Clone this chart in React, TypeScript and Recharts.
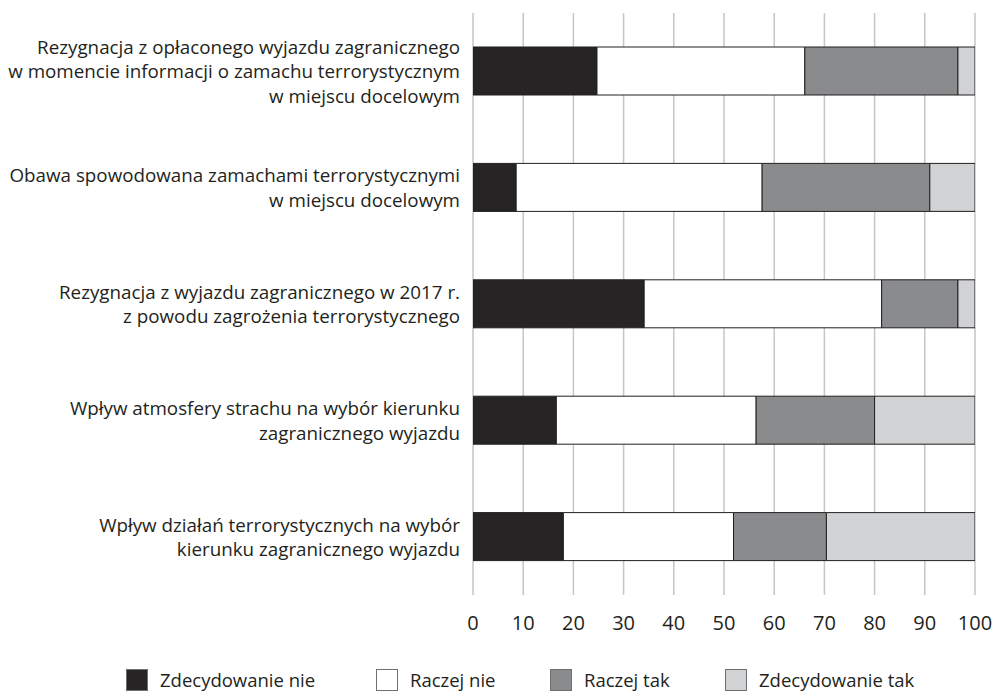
import { Bar, BarChart, CartesianGrid, XAxis, YAxis } from 'recharts'

document.body.style.margin = '0'

const categories = [
  ['Rezygnacja z opłaconego wyjazdu zagranicznego', 'w momencie informacji o zamachu terrorystycznym', 'w miejscu docelowym'],
  ['Obawa spowodowana zamachami terrorystycznymi', 'w miejscu docelowym'],
  ['Rezygnacja z wyjazdu zagranicznego w 2017 r.', 'z powodu zagrożenia terrorystycznego'],
  ['Wpływ atmosfery strachu na wybór kierunku', 'zagranicznego wyjazdu'],
  ['Wpływ działań terrorystycznych na wybór', 'kierunku zagranicznego wyjazdu'],
]
const zdecydowanieNie = [24.7, 8.6, 34.1, 16.6, 18.0]
const raczejNie = [41.4, 49.0, 47.3, 39.8, 33.9]
const raczejTak = [30.5, 33.4, 15.2, 23.6, 18.5]
const zdecydowanieTak = [3.4, 9.3, 3.4, 20.0, 29.6]
const xTicks = [0, 10, 20, 30, 40, 50, 60, 70, 80, 90, 100]

const series = [
  { key: 'zn', name: 'Zdecydowanie nie', fill: '#262425' },
  { key: 'rn', name: 'Raczej nie', fill: '#ffffff' },
  { key: 'rt', name: 'Raczej tak', fill: '#8a8b8c' },
  { key: 'zt', name: 'Zdecydowanie tak', fill: '#d1d2d4' },
]

const data = categories.map((lines, i) => ({
  id: String(i),
  lines,
  zn: zdecydowanieNie[i],
  rn: raczejNie[i],
  rt: raczejTak[i],
  zt: zdecydowanieTak[i],
}))

const FONT = '"Open Sans", sans-serif'
const TEXT = '#231f20'

// multi-line, right-aligned category label
function CategoryTick({ x, y, payload }: any) {
  const lines = categories[Number(payload.value)] ?? []
  const lh = 24.5
  const start = y - ((lines.length - 1) * lh) / 2
  return (
    <text
      x={x}
      y={start}
      textAnchor="end"
      fontFamily={FONT}
      fontSize={18.8}
      fill={TEXT}
      dominantBaseline="central"
    >
      {lines.map((l, i) => (
        <tspan key={i} x={x} y={start + i * lh}>
          {l}
        </tspan>
      ))}
    </text>
  )
}

const legendLeft = [126, 376, 550, 725]

function ChartLegend() {
  return (
    <div style={{ position: 'relative', height: 22, fontFamily: FONT }}>
      {series.map((s, i) => (
        <div
          key={s.key}
          style={{
            position: 'absolute',
            left: legendLeft[i],
            top: 0,
            display: 'flex',
            alignItems: 'center',
            whiteSpace: 'nowrap',
            lineHeight: '22px',
          }}
        >
          <span
            style={{
              width: 20,
              height: 20,
              background: s.fill,
              border: '1px solid #6d6e70',
              display: 'inline-block',
            }}
          />
          <span style={{ marginLeft: 12, fontSize: 18.5, color: TEXT }}>{s.name}</span>
        </div>
      ))}
    </div>
  )
}

export default function App() {
  return (
    <div style={{ width: 995, height: 691, background: '#fff', overflow: 'hidden' }}>
      <BarChart
        width={995}
        height={665}
        data={data}
        layout="vertical"
        margin={{ top: 13, right: 20, left: 0, bottom: 20 }}
        barSize={48}
      >
        <CartesianGrid horizontal={false} stroke="#c6c6c6" strokeWidth={1.5} />
        <XAxis
          type="number"
          domain={[0, 100]}
          ticks={xTicks}
          allowDataOverflow
          axisLine={false}
          tickLine={false}
          tickMargin={15}
          height={50}
          tick={{ fontSize: 20, fill: TEXT, fontFamily: FONT }}
        />
        <YAxis
          type="category"
          dataKey="id"
          width={473}
          axisLine={false}
          tickLine={false}
          tickMargin={7}
          tick={<CategoryTick />}
        />
        {series.map((s) => (
          <Bar
            key={s.key}
            dataKey={s.key}
            name={s.name}
            stackId="a"
            fill={s.fill}
            stroke={TEXT}
            strokeWidth={1}
            isAnimationActive={false}
          />
        ))}
      </BarChart>
      <div style={{ marginTop: 4 }}>
        <ChartLegend />
      </div>
    </div>
  )
}
